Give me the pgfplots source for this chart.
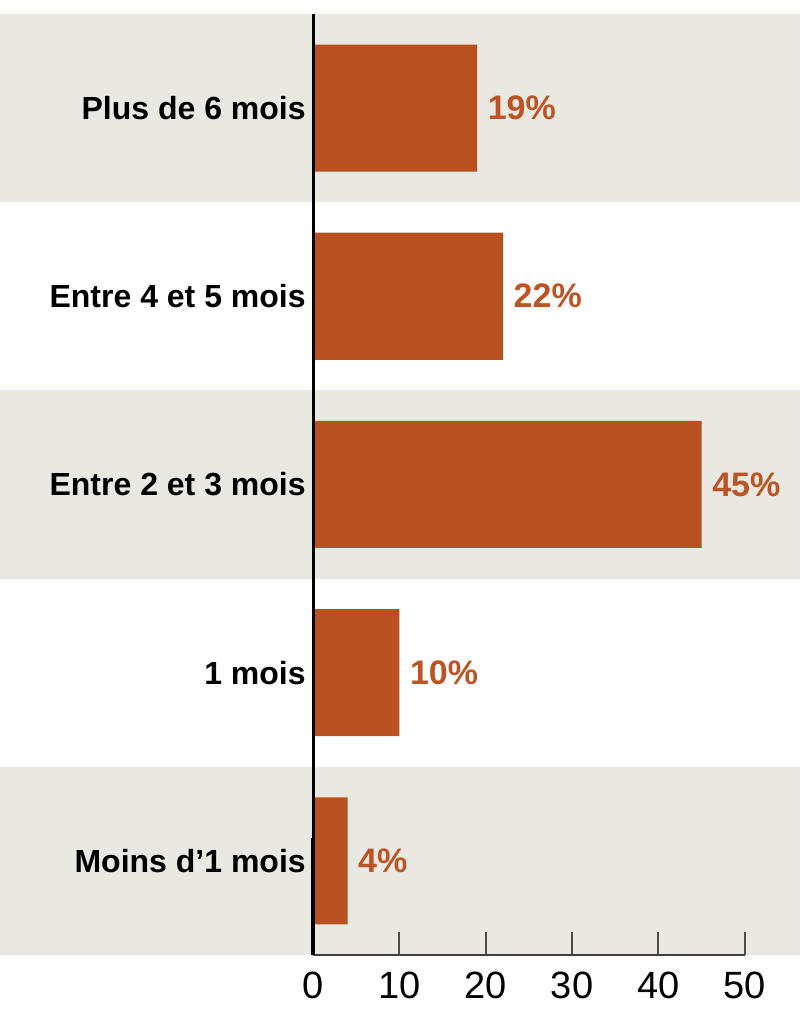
\documentclass[border=0pt]{standalone}
\usepackage{pgfplots}
\pgfplotsset{compat=1.18}
\usepackage{fontspec}
\setmainfont{Liberation Sans}
\definecolor{barcol}{HTML}{B9501F}
\definecolor{valcol}{HTML}{BC5426}
\definecolor{band}{HTML}{EAE9E1}
\begin{document}
\begin{tikzpicture}
\begin{axis}[
  set layers, axis on top,
  scale only axis,
  width=146.1pt, height=282.3pt,
  xmin=0, xmax=56.4,
  ymin=-0.5, ymax=4.5,
  clip=false,
  axis lines*=left,
  x axis line style={draw=none},
  y axis line style={black, line width=0.9pt},
  xtick={0,10,20,30,40,50},
  tick align=inside,
  major tick length=7pt,
  xtick style={draw=black!70, line width=0.6pt},
  ytick={0,1,2,3,4},
  yticklabels={Moins d'1 mois, 1 mois, Entre 2 et 3 mois, Entre 4 et 5 mois, Plus de 6 mois},
  ytick style={draw=none},
  yticklabel style={font=\fontsize{9.6pt}{11pt}\selectfont\bfseries, inner sep=0pt, xshift=5pt},
  xticklabel style={font=\fontsize{11.4pt}{13pt}\selectfont, yshift=-1.6pt},
  /pgf/number format/assume math mode=true,
  xbar, bar width=0.675,
  nodes near coords={\pgfmathprintnumber{\pgfplotspointmeta}\%},
  nodes near coords style={font=\fontsize{10.2pt}{12pt}\selectfont\bfseries, text=valcol, anchor=west, inner sep=0pt, xshift=3pt},
]
\begin{pgfonlayer}{axis background}
\fill[band] (axis cs:-36.25,3.5) rectangle (axis cs:56.4,4.5);
\fill[band] (axis cs:-36.25,1.5) rectangle (axis cs:56.4,2.5);
\fill[band] (axis cs:-36.25,-0.5) rectangle (axis cs:56.4,0.5);
\end{pgfonlayer}
\path (axis cs:-36.25,-0.8135) rectangle (axis cs:56.4,4.574);
\addplot[fill=barcol, draw=none] coordinates {(4,0) (10,1) (45,2) (22,3) (19,4)};
\draw[black!75, line width=0.6pt] (axis cs:0,-0.5) -- (axis cs:50,-0.5);
\draw[black, line width=1.2pt] (axis cs:0,-0.5) -- ++(0,7pt);
\end{axis}
\end{tikzpicture}
\end{document}
